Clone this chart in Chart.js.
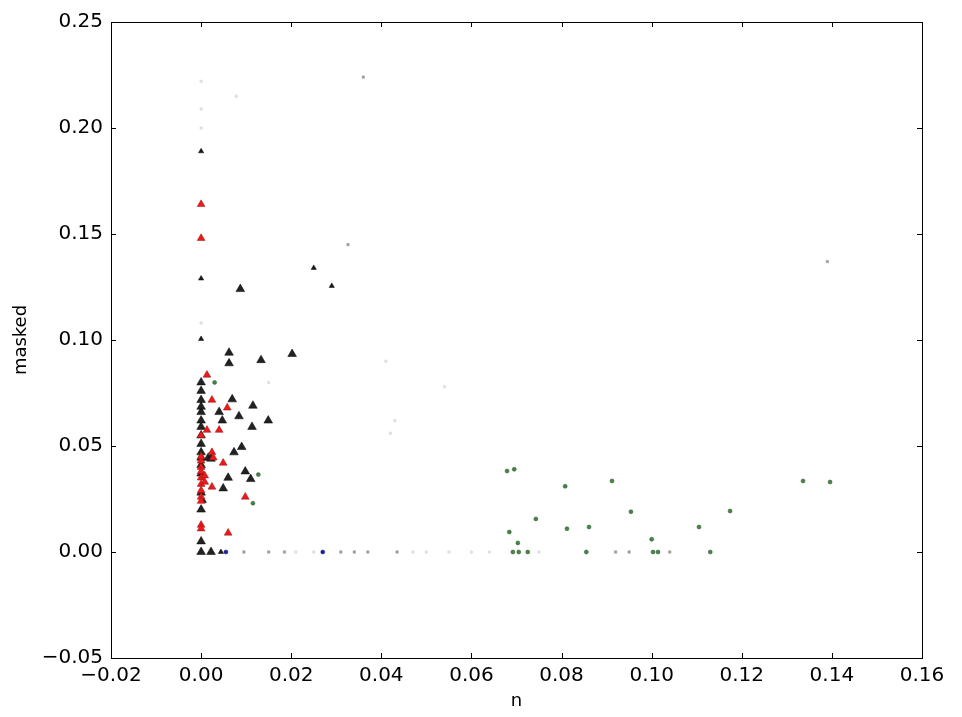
<!DOCTYPE html>
<html>
<head>
<meta charset="utf-8">
<script src="https://cdn.jsdelivr.net/npm/chart.js@4/dist/chart.umd.min.js"></script>
<style>
  html,body{margin:0;padding:0;background:#fff}
  #c{display:block}
</style>
</head>
<body>
<canvas id="c" width="962" height="717"></canvas>
<script>
// values
var xTicks=[-0.02,0,0.02,0.04,0.06,0.08,0.10,0.12,0.14,0.16]
var yTicks=[-0.05,0,0.05,0.10,0.15,0.20,0.25]

var blackX=[0.0087,0.0062,0.0062,0.0133,0.0202,0.0069,0.0115,0.004,0.0084,0.0149,0.0047,0.0113,0.0073,0.009,0.0098,0.011,0.006,0.0049,0.0016,0.0022,
            0,0,0,0,0,0,0,0,0,0,0,0,0,0,0,0,0,0.0022]
var blackY=[0.124,0.094,0.089,0.0905,0.0934,0.072,0.069,0.066,0.064,0.062,0.062,0.059,0.047,0.0495,0.038,0.0344,0.035,0.030,0.0445,0.044,
            0.080,0.0717,0.066,0.059,0.051,0.047,0.0445,0.041,0.037,0.020,0.005,0,0.055,0.062,0.0685,0.076,0.028,0]

var smallBlackX=[0,0,0,0.025,0.029,0.0044,0.0006]
var smallBlackY=[0.189,0.129,0.1005,0.134,0.1255,0,0.024]

var redX=[0,0,0.0013,0.0024,0.0058,0.0013,0.004,0,0.0024,0.0027,0.0049,0,0.0024,0,0.0098,0,0,0.006,0,0,0,0,0,0.0008,0.0008,0,0]
var redY=[0.164,0.148,0.0835,0.0717,0.068,0.0575,0.0575,0.055,0.047,0.0445,0.042,0.035,0.0307,0.032,0.026,0.0127,0.011,0.009,0.040,0.043,0.038,0.029,0.026,0.036,0.033,0.045,0.024]

var greenX=[0.0679,0.0695,0.0808,0.0912,0.0954,0.0743,0.0684,0.0812,0.0861,0.100,0.0703,0.0692,0.0705,0.0725,0.0855,0.1003,0.1014,0.1105,0.1336,0.1396,0.1174,0.113,0.0127,0.0115,0.003]
var greenY=[0.0382,0.039,0.031,0.0335,0.019,0.0156,0.0094,0.011,0.0118,0.006,0.0043,0,0,0,0,0,0,0.0118,0.0335,0.033,0.0193,0,0.0365,0.023,0.080]

var blueX=[0.027,0.0055]
var blueY=[0,0]

var greyX=[0.0435,0.015,0.0185,0.031,0.034,0.037,0.0095,0.036,0.0326,0.139,0.092,0.095,0.104]
var greyY=[0,0,0,0,0,0,0,0.224,0.145,0.137,0,0,0]

var faintX=[0,0.0078,0,0,0,0.015,0.041,0.054,0.043,0.042,0.06,0.064,0.055,0.05,0.047,0.075,0.021,0.025]
var faintY=[0.222,0.215,0.209,0.200,0.108,0.080,0.090,0.078,0.062,0.056,0,0,0,0,0,0,0,0]

function pts(xs,ys){
  return xs.map(function(x,i){return {x:x,y:ys[i]}})
}

var font='"DejaVu Sans", sans-serif'

var frame={
  id:'frame',
  afterDraw:function(chart){
    var ctx=chart.ctx,a=chart.chartArea,sx=chart.scales.x,sy=chart.scales.y
    ctx.save()
    ctx.strokeStyle='#000'
    ctx.lineWidth=1
    ctx.beginPath()
    xTicks.forEach(function(v){
      var p=Math.round(sx.getPixelForValue(v))+0.5
      ctx.moveTo(p,a.bottom);ctx.lineTo(p,a.bottom-5)
      ctx.moveTo(p,a.top);ctx.lineTo(p,a.top+5)
    })
    yTicks.forEach(function(v){
      var p=Math.round(sy.getPixelForValue(v))+0.5
      ctx.moveTo(a.left,p);ctx.lineTo(a.left+5,p)
      ctx.moveTo(a.right,p);ctx.lineTo(a.right-5,p)
    })
    ctx.stroke()
    ctx.strokeRect(Math.round(a.left)+0.5,Math.round(a.top)+0.5,Math.round(a.right-a.left),Math.round(a.bottom-a.top))
    ctx.restore()
  }
}

new Chart(document.getElementById('c'),{
  type:'scatter',
  data:{
    datasets:[
      {label:'faint',data:pts(faintX,faintY),pointStyle:'circle',pointRadius:1.5,backgroundColor:'rgba(200,200,200,0.5)',borderColor:'rgba(200,200,200,0.5)',borderWidth:0.5},
      {label:'grey',data:pts(greyX,greyY),pointStyle:'rect',pointRadius:1.8,backgroundColor:'#999',borderColor:'#aaa',borderWidth:0.5},
      {label:'blue',data:pts(blueX,blueY),pointStyle:'circle',pointRadius:2,backgroundColor:'#1a1ab0',borderColor:'#222266',borderWidth:0.5},
      {label:'green',data:pts(greenX,greenY),pointStyle:'circle',pointRadius:2,backgroundColor:'#3f8a3f',borderColor:'#3a4a3a',borderWidth:0.5},
      {label:'red',data:pts(redX,redY),pointStyle:'triangle',pointRadius:4.5,backgroundColor:'#f01818',borderColor:'#8a1818',borderWidth:0.5},
      {label:'black small',data:pts(smallBlackX,smallBlackY),pointStyle:'triangle',pointRadius:3,backgroundColor:'#1a1a1a',borderColor:'#000',borderWidth:0.5},
      {label:'black',data:pts(blackX,blackY),pointStyle:'triangle',pointRadius:5,backgroundColor:'#222',borderColor:'#000',borderWidth:0.5}
    ]
  },
  options:{
    responsive:false,
    animation:false,
    layout:{padding:{top:22,right:40,left:0,bottom:0}},
    plugins:{legend:{display:false},tooltip:{enabled:false}},
    scales:{
      x:{
        type:'linear',min:-0.02,max:0.16,
        grid:{display:false,drawTicks:false},
        border:{display:false},
        afterFit:function(s){s.height=59},
        afterBuildTicks:function(s){s.ticks=xTicks.map(function(v){return {value:v}})},
        ticks:{
          color:'#000',padding:6,maxRotation:0,autoSkip:false,
          font:{family:font,size:20},
          callback:function(v){return v.toFixed(2).replace('-','\u2212')}
        },
        title:{display:true,text:'n',color:'#000',font:{family:font,size:18},padding:{top:0,bottom:5}}
      },
      y:{
        type:'linear',min:-0.05,max:0.25,
        grid:{display:false,drawTicks:false},
        border:{display:false},
        afterFit:function(s){s.width=111},
        afterBuildTicks:function(s){s.ticks=yTicks.map(function(v){return {value:v}})},
        ticks:{
          color:'#000',padding:8,autoSkip:false,
          font:{family:font,size:20},
          callback:function(v){return v.toFixed(2).replace('-','\u2212')}
        },
        title:{display:true,text:'masked',color:'#000',font:{family:font,size:18},padding:{top:11,bottom:0}}
      }
    }
  },
  plugins:[frame]
})
</script>
</body>
</html>
